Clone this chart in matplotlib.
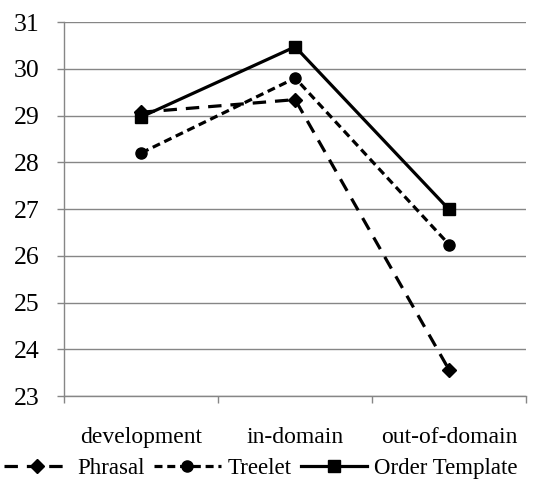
import numpy as np
import matplotlib
matplotlib.use('Agg')
import matplotlib.pyplot as plt

plt.rcParams['font.family'] = ['Liberation Serif', 'DejaVu Serif']

# Data
categories = ['development', 'in-domain', 'out-of-domain']
phrasal = [29.07, 29.34, 23.56]
treelet = [28.20, 29.80, 26.24]
order_template = [28.97, 30.47, 26.99]

grey = '#868686'
fs = 17

fig = plt.figure(figsize=(5.41, 4.90), dpi=100)
ax = fig.add_axes([0.1189, 0.1918, 0.8534, 0.7633])

x = np.arange(len(categories))
ax.plot(x, phrasal, color='black', lw=2.3, dashes=(4.2, 2.8),
        marker='D', markersize=7, label='Phrasal', zorder=3)
ax.plot(x, treelet, color='black', lw=2.3, dashes=(2.5, 1.5),
        marker='o', markersize=8, label='Treelet', zorder=3)
ax.plot(x, order_template, color='black', lw=2.3,
        marker='s', markersize=8, label='Order Template', zorder=3)

ax.set_xlim(-0.5, 2.5)
ax.set_ylim(23, 31)
ax.set_yticks(range(23, 32))
ax.yaxis.grid(True, color=grey, lw=1)
ax.set_axisbelow(True)

# category boundaries as major ticks, names as minor ticks
ax.set_xticks([-0.5, 0.5, 1.5, 2.5])
ax.set_xticklabels([])
ax.set_xticks(x, minor=True)
ax.set_xticklabels(categories, minor=True)
ax.tick_params(axis='x', which='major', direction='out', length=5, color=grey, width=1)
ax.tick_params(axis='x', which='minor', length=0, pad=22, labelsize=fs)
ax.tick_params(axis='y', direction='out', length=5, color=grey, width=1, pad=13, labelsize=18.5)

for s in ['top', 'right']:
    ax.spines[s].set_visible(False)
for s in ['left', 'bottom']:
    ax.spines[s].set_color(grey)
    ax.spines[s].set_linewidth(1)

fig.legend(loc='center', bbox_to_anchor=(0.482, 0.043), ncol=3, frameon=False,
           fontsize=16.5, handlelength=2.9, handletextpad=0.3, columnspacing=0.4,
           borderaxespad=0, borderpad=0)

fig.savefig('out.png', dpi=100)
